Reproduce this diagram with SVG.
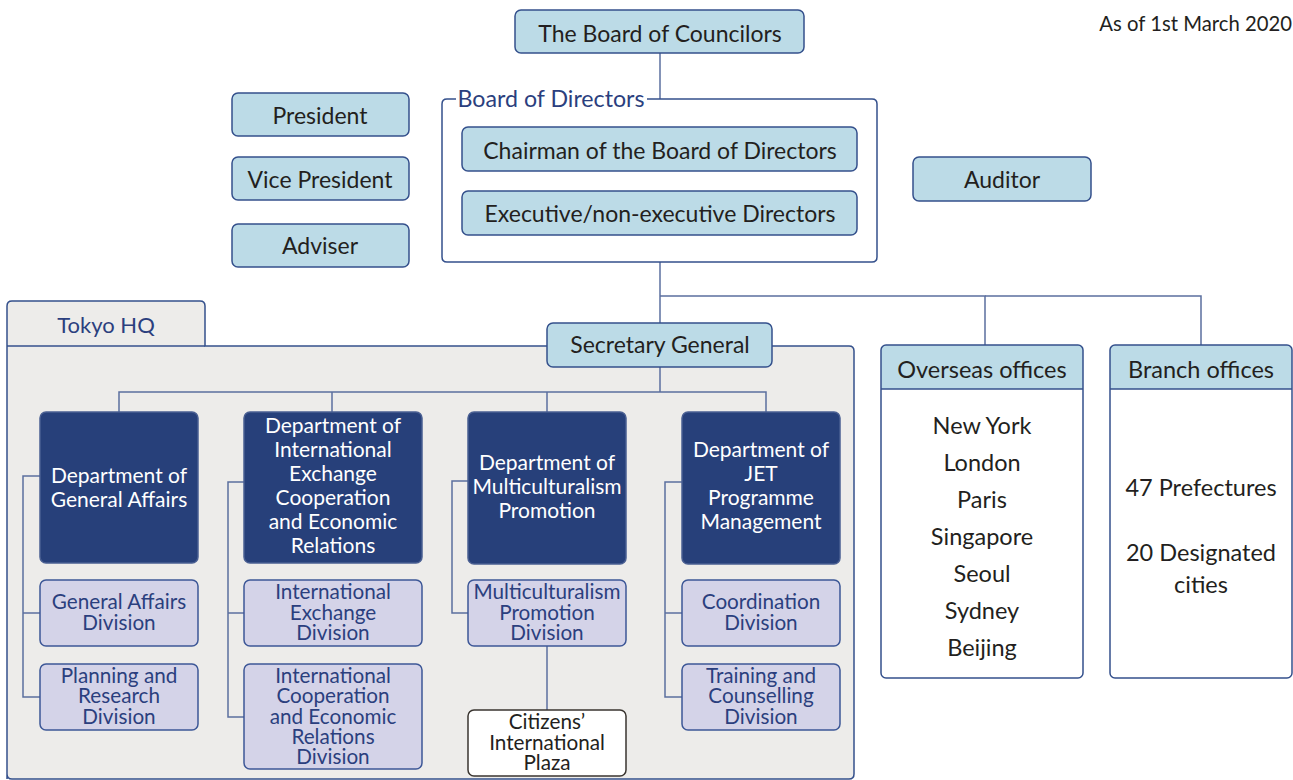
<svg xmlns="http://www.w3.org/2000/svg" width="1293" height="780" viewBox="0 0 1293 780">
<style>
text{font-family:Lato,"Open Sans","Liberation Sans",sans-serif;text-anchor:middle}
.lb{fill:#bcdbe7;stroke:#34508c;stroke-width:1.5}
.dk{fill:#27407a;stroke:#4a5f92;stroke-width:1.5}
.dv{fill:#d4d3e8;stroke:#3d5797;stroke-width:1.5}
.wh{fill:none;stroke:#34508c;stroke-width:1.5}
.t1{font-size:23px;fill:#231f20}
.t2{font-size:21px;fill:#ffffff}
.t3{font-size:20.7px;fill:#2b3f7e}
.t4{font-size:23.5px;fill:#231f20}
.bl{fill:#2b3f7e}
.cn{fill:none;stroke:#5b6f9f;stroke-width:1.5}
</style>
<rect width="1293" height="780" fill="#ffffff"/>
<text x="1292" y="31" style="text-anchor:end;font-size:20.3px;fill:#231f20">As of 1st March 2020</text>

<g id="tokyo-hq">
<path d="M7,779 V306 Q7,301 12,301 H200 Q205,301 205,306 V346 H849 Q854,346 854,351 V774 Q854,779 849,779 H12 Q7,779 7,774 Z" fill="#edecea" stroke="#34508c" stroke-width="1.5"/>
<line x1="7" y1="346" x2="205" y2="346" stroke="#34508c" stroke-width="1.5"/>
<text x="106" y="333" class="bl" style="font-size:22px">Tokyo HQ</text>
</g>

<g id="connectors">
<line class="cn" x1="660" y1="53" x2="660" y2="99"/>
<polyline class="cn" points="660,262 660,323"/>
<polyline class="cn" points="985,346 985,296 660,296"/>
<polyline class="cn" points="985,296 1201,296 1201,346"/>
<line class="cn" x1="660" y1="367" x2="660" y2="392"/>
<polyline class="cn" points="119,412 119,392 766,392 766,412"/>
<line class="cn" x1="332" y1="392" x2="332" y2="412"/>
<line class="cn" x1="547" y1="392" x2="547" y2="412"/>
<polyline class="cn" points="40,476 23,476 23,697 40,697"/>
<line class="cn" x1="23" y1="613" x2="40" y2="613"/>
<polyline class="cn" points="244,482 228,482 228,717 244,717"/>
<line class="cn" x1="228" y1="613" x2="244" y2="613"/>
<polyline class="cn" points="468,481 452,481 452,613 468,613"/>
<line class="cn" x1="547" y1="646" x2="547" y2="710"/>
<polyline class="cn" points="682,482 665,482 665,697 682,697"/>
<line class="cn" x1="665" y1="613" x2="682" y2="613"/>
</g>

<g id="board-of-councilors">
<rect class="lb" x="515" y="10" width="289" height="43" rx="6"/>
<text class="t1" x="660" y="42">The Board of Councilors</text>
</g>

<g id="board-of-directors">
<path d="M447,99 Q442,99 442,104 V257 Q442,262 447,262 H872 Q877,262 877,257 V104 Q877,99 872,99 H647 M456,99 H447" fill="none" stroke="#34508c" stroke-width="1.5"/>
<text x="551" y="107" class="bl" style="font-size:23.2px">Board of Directors</text>
</g>
<g id="chairman">
<rect class="lb" x="462" y="127" width="395" height="44" rx="6"/>
<text class="t1" x="660" y="159">Chairman of the Board of Directors</text>
</g>
<g id="executive-directors">
<rect class="lb" x="462" y="191" width="395" height="44" rx="6"/>
<text class="t1" x="660" y="222">Executive/non-executive Directors</text>
</g>

<g id="president">
<rect class="lb" x="232" y="93" width="177" height="43" rx="6"/>
<text class="t1" x="320" y="124">President</text>
</g>
<g id="vice-president">
<rect class="lb" x="232" y="157" width="177" height="43" rx="6"/>
<text class="t1" x="320" y="188">Vice President</text>
</g>
<g id="adviser">
<rect class="lb" x="232" y="224" width="177" height="43" rx="6"/>
<text class="t1" x="320" y="254">Adviser</text>
</g>
<g id="auditor">
<rect class="lb" x="913" y="157" width="178" height="44" rx="6"/>
<text class="t1" x="1002" y="188">Auditor</text>
</g>

<g id="secretary-general">
<rect class="lb" x="547" y="323" width="225" height="44" rx="6"/>
<text class="t1" x="660" y="353">Secretary General</text>
</g>

<g id="dept-general-affairs">
<rect class="dk" x="40" y="412" width="158" height="151" rx="6"/>
<text class="t2"><tspan x="119" y="483">Department of</tspan><tspan x="119" y="507">General Affairs</tspan></text>
</g>
<g id="dept-international">
<rect class="dk" x="244" y="412" width="178" height="151" rx="6"/>
<text class="t2"><tspan x="333" y="433">Department of</tspan><tspan x="333" y="457">International</tspan><tspan x="333" y="481">Exchange</tspan><tspan x="333" y="505">Cooperation</tspan><tspan x="333" y="529">and Economic</tspan><tspan x="333" y="553">Relations</tspan></text>
</g>
<g id="dept-multiculturalism">
<rect class="dk" x="468" y="412" width="158" height="152" rx="6"/>
<text class="t2"><tspan x="547" y="470">Department of</tspan><tspan x="547" y="494">Multiculturalism</tspan><tspan x="547" y="518">Promotion</tspan></text>
</g>
<g id="dept-jet">
<rect class="dk" x="682" y="412" width="158" height="152" rx="6"/>
<text class="t2"><tspan x="761" y="457">Department of</tspan><tspan x="761" y="481">JET</tspan><tspan x="761" y="505">Programme</tspan><tspan x="761" y="529">Management</tspan></text>
</g>

<g id="general-affairs-division">
<rect class="dv" x="40" y="580" width="158" height="66" rx="6"/>
<text class="t3"><tspan x="119" y="609">General Affairs</tspan><tspan x="119" y="630">Division</tspan></text>
</g>
<g id="planning-research-division">
<rect class="dv" x="40" y="664" width="158" height="66" rx="6"/>
<text class="t3"><tspan x="119" y="683">Planning and</tspan><tspan x="119" y="703">Research</tspan><tspan x="119" y="724">Division</tspan></text>
</g>
<g id="international-exchange-division">
<rect class="dv" x="244" y="580" width="178" height="66" rx="6"/>
<text class="t3"><tspan x="333" y="599">International</tspan><tspan x="333" y="620">Exchange</tspan><tspan x="333" y="640">Division</tspan></text>
</g>
<g id="international-cooperation-division">
<rect class="dv" x="244" y="664" width="178" height="105" rx="6"/>
<text class="t3"><tspan x="333" y="683">International</tspan><tspan x="333" y="703">Cooperation</tspan><tspan x="333" y="724">and Economic</tspan><tspan x="333" y="744">Relations</tspan><tspan x="333" y="764">Division</tspan></text>
</g>
<g id="multiculturalism-division">
<rect class="dv" x="468" y="580" width="158" height="66" rx="6"/>
<text class="t3"><tspan x="547" y="599">Multiculturalism</tspan><tspan x="547" y="620">Promotion</tspan><tspan x="547" y="640">Division</tspan></text>
</g>
<g id="citizens-plaza">
<rect x="468" y="710" width="158" height="66" rx="6" fill="#ffffff" stroke="#3a3530" stroke-width="1.5"/>
<text style="font-size:20.7px;fill:#231f20"><tspan x="547" y="729">Citizens’</tspan><tspan x="547" y="750">International</tspan><tspan x="547" y="770">Plaza</tspan></text>
</g>
<g id="coordination-division">
<rect class="dv" x="682" y="580" width="158" height="66" rx="6"/>
<text class="t3"><tspan x="761" y="609">Coordination</tspan><tspan x="761" y="630">Division</tspan></text>
</g>
<g id="training-division">
<rect class="dv" x="682" y="664" width="158" height="66" rx="6"/>
<text class="t3"><tspan x="761" y="683">Training and</tspan><tspan x="761" y="703">Counselling</tspan><tspan x="761" y="724">Division</tspan></text>
</g>

<g id="overseas-offices">
<path d="M881,389 V350 Q881,345 886,345 H1078 Q1083,345 1083,350 V389 Z" fill="#bcdbe7"/>
<rect class="wh" x="881" y="345" width="202" height="333" rx="5"/>
<line x1="881" y1="389" x2="1083" y2="389" stroke="#34508c" stroke-width="1.5"/>
<text class="t4" x="982" y="378">Overseas offices</text>
<text class="t4"><tspan x="982" y="434">New York</tspan><tspan x="982" y="471">London</tspan><tspan x="982" y="508">Paris</tspan><tspan x="982" y="545">Singapore</tspan><tspan x="982" y="582">Seoul</tspan><tspan x="982" y="619">Sydney</tspan><tspan x="982" y="656">Beijing</tspan></text>
</g>
<g id="branch-offices">
<path d="M1110,389 V350 Q1110,345 1115,345 H1287 Q1292,345 1292,350 V389 Z" fill="#bcdbe7"/>
<rect class="wh" x="1110" y="345" width="182" height="333" rx="5"/>
<line x1="1110" y1="389" x2="1292" y2="389" stroke="#34508c" stroke-width="1.5"/>
<text class="t4" x="1201" y="378">Branch offices</text>
<text class="t4"><tspan x="1201" y="496">47 Prefectures</tspan><tspan x="1201" y="561">20 Designated</tspan><tspan x="1201" y="593">cities</tspan></text>
</g>
</svg>
